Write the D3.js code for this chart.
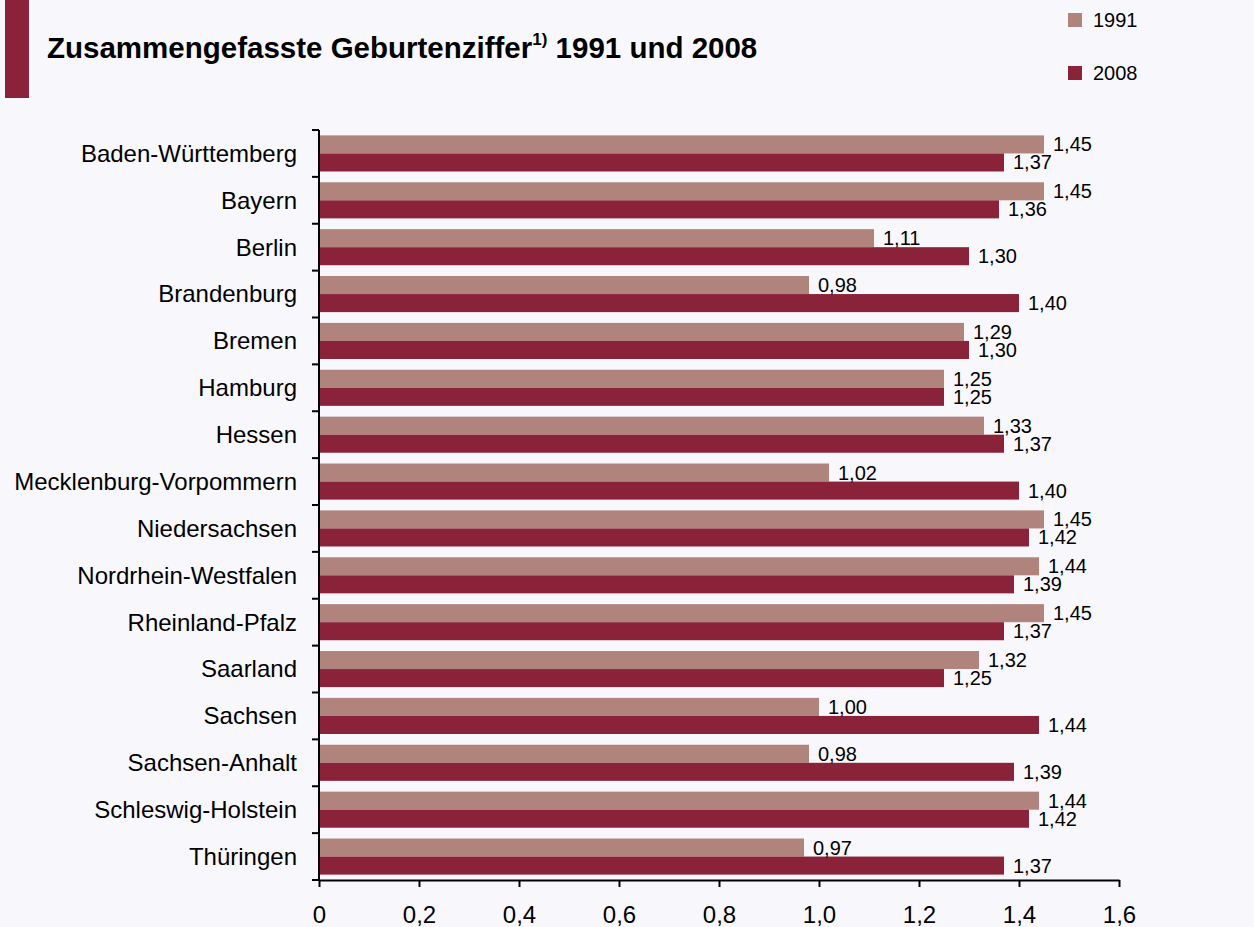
<!DOCTYPE html>
<html>
<head>
<meta charset="utf-8">
<script src="https://cdn.jsdelivr.net/npm/d3@7"></script>
<style>
  body { margin: 0; background: #f8f8fc; }
  svg { display: block; font-family: "Liberation Sans", Arial, sans-serif; }
</style>
</head>
<body>
<div class="wrapper"></div>
<script>
const states = ["Baden-Württemberg", "Bayern", "Berlin", "Brandenburg", "Bremen", "Hamburg", "Hessen",
    "Mecklenburg-Vorpommern", "Niedersachsen", "Nordrhein-Westfalen", "Rheinland-Pfalz", "Saarland",
    "Sachsen", "Sachsen-Anhalt", "Schleswig-Holstein", "Thüringen"];
const values1991 = [1.45, 1.45, 1.11, 0.98, 1.29, 1.25, 1.33, 1.02, 1.45, 1.44, 1.45, 1.32, 1.00, 0.98, 1.44, 0.97];
const values2008 = [1.37, 1.36, 1.30, 1.40, 1.30, 1.25, 1.37, 1.40, 1.42, 1.39, 1.37, 1.25, 1.44, 1.39, 1.42, 1.37];
const seriesNames = ["1991", "2008"];
const xTicks = [0, 0.2, 0.4, 0.6, 0.8, 1.0, 1.2, 1.4, 1.6];

const colors = {"1991": "#b0847c", "2008": "#8a2339"};
const width = 1254, height = 927;
const margin = {top: 130, right: 135, bottom: 47, left: 319};

const fmt = v => d3.format(".2f")(v).replace(".", ",");
const fmtTick = v => (v === 0 ? "0" : d3.format(".1f")(v)).replace(".", ",");

const svg = d3.select(".wrapper").append("svg")
    .attr("width", width)
    .attr("height", height);

// title block
svg.append("rect").attr("x", 5).attr("y", 0).attr("width", 24).attr("height", 98).attr("fill", "#8a2339");
const title = svg.append("text")
    .attr("x", 47).attr("y", 58)
    .style("font-size", "29.5px").style("font-weight", "bold").attr("fill", "#000");
title.append("tspan").text("Zusammengefasste Geburtenziffer");
title.append("tspan").attr("dy", -13).style("font-size", "17px").text("1)");
title.append("tspan").attr("dy", 13).text(" 1991 und 2008");

// legend
const legend = svg.append("g").selectAll("g").data(seriesNames).join("g")
    .attr("transform", (d, i) => `translate(1068,${13 + i * 53})`);
legend.append("rect").attr("width", 14).attr("height", 14).attr("fill", d => colors[d]);
legend.append("text").attr("x", 25).attr("y", 7).attr("dy", "0.35em")
    .style("font-size", "20px").text(d => d);

const x = d3.scaleLinear().domain([0, 1.6]).range([margin.left, width - margin.right]);
const y = d3.scaleBand().domain(states).range([margin.top, height - margin.bottom])
    .paddingInner(0.23).paddingOuter(0.115);
const ySub = d3.scaleBand().domain(seriesNames).range([0, y.bandwidth()]);

const rows = states.map((s, i) => ({state: s, vals: [
    {key: "1991", v: values1991[i]},
    {key: "2008", v: values2008[i]}
]}));

const groups = svg.append("g").selectAll("g").data(rows).join("g")
    .attr("transform", d => `translate(0,${y(d.state)})`);

groups.selectAll("rect").data(d => d.vals).join("rect")
    .attr("x", x(0))
    .attr("y", d => ySub(d.key))
    .attr("width", d => x(d.v) - x(0))
    .attr("height", ySub.bandwidth())
    .attr("fill", d => colors[d.key]);

groups.selectAll("text").data(d => d.vals).join("text")
    .attr("x", d => x(d.v) + 9)
    .attr("y", d => ySub(d.key) + ySub.bandwidth() / 2)
    .attr("dy", "0.35em")
    .style("font-size", "20px")
    .attr("fill", "#000")
    .text(d => fmt(d.v));

// y axis: ticks at band boundaries
const yAxis = svg.append("g");
const bounds = d3.range(states.length + 1).map(i => margin.top + i * y.step());
yAxis.append("line")
    .attr("x1", x(0)).attr("x2", x(0))
    .attr("y1", margin.top).attr("y2", height - margin.bottom)
    .attr("stroke", "#000").attr("stroke-width", 2);
yAxis.selectAll("line.tick").data(bounds).join("line").attr("class", "tick")
    .attr("x1", x(0) - 7).attr("x2", x(0))
    .attr("y1", d => d).attr("y2", d => d)
    .attr("stroke", "#000").attr("stroke-width", 2);
yAxis.selectAll("text").data(states).join("text")
    .attr("x", 297)
    .attr("y", d => y(d) + y.bandwidth() / 2)
    .attr("dy", "0.35em")
    .attr("text-anchor", "end")
    .style("font-size", "24px")
    .text(d => d);

// x axis
const xAxis = svg.append("g")
    .attr("transform", `translate(0,${height - margin.bottom})`)
    .call(d3.axisBottom(x).tickValues(xTicks).tickFormat(fmtTick).tickSize(7).tickSizeOuter(0).tickPadding(19));
xAxis.select(".domain").attr("stroke-width", 2);
xAxis.selectAll(".tick line").attr("stroke-width", 2);
xAxis.selectAll(".tick text").style("font-size", "24px").style("font-family", "Liberation Sans, Arial, sans-serif").attr("fill", "#000");
</script>
</body>
</html>
